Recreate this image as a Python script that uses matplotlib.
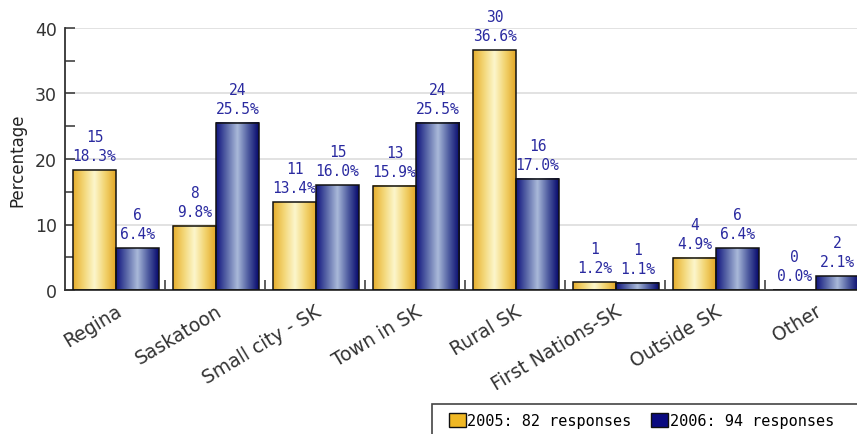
import numpy as np
import matplotlib.pyplot as plt
from matplotlib.colors import LinearSegmentedColormap
from matplotlib.patches import Rectangle

# ------------------------------------------------------------
# Data
# ------------------------------------------------------------
categories = ["Regina", "Saskatoon", "Small city - SK", "Town in SK",
              "Rural SK", "First Nations-SK", "Outside SK", "Other"]
pct_2005 = [18.3, 9.8, 13.4, 15.9, 36.6, 1.2, 4.9, 0.0]
cnt_2005 = [15, 8, 11, 13, 30, 1, 4, 0]
pct_2006 = [6.4, 25.5, 16.0, 25.5, 17.0, 1.1, 6.4, 2.1]
cnt_2006 = [6, 24, 15, 24, 16, 1, 6, 2]
series_names = ["2005: 82 responses", "2006: 94 responses"]

# cylinder-like shading for each series
gold_cmap = LinearSegmentedColormap.from_list(
    "gold", ["#E6AE2E", "#F3D676", "#FCF6CC", "#F2D36E", "#E2A625"])
blue_cmap = LinearSegmentedColormap.from_list(
    "blue", ["#10147E", "#5A68A8", "#A9B9D9", "#4E5CA0", "#06086C"])

W, H = 857, 435
fig = plt.figure(figsize=(W / 100, H / 100), dpi=100)
ax = fig.add_axes([65 / W, 144 / H, 800 / W, 262 / H])

grad = np.linspace(0, 1, 256).reshape(1, -1)
bar_w = 0.43
label_color = "#2A2AA0"


def shaded_bar(x0, h, cmap):
    if h > 0:
        ax.imshow(grad, cmap=cmap, aspect="auto", extent=[x0, x0 + bar_w, 0, h],
                  zorder=2, interpolation="bilinear")
    ax.add_patch(Rectangle((x0, 0), bar_w, h, fill=False, edgecolor="#111111",
                           linewidth=1.1, zorder=3))


def value_label(xc, h, cnt, pct):
    ax.annotate(f"{cnt}\n{pct:.1f}%", (xc, h), xytext=(0, 5),
                textcoords="offset points", ha="center", va="bottom",
                family="DejaVu Sans Mono", fontsize=10.5, color=label_color,
                linespacing=1.35, zorder=4)


for i in range(len(categories)):
    x_a = i - 0.42
    x_b = i + 0.01
    shaded_bar(x_a, pct_2005[i], gold_cmap)
    shaded_bar(x_b, pct_2006[i], blue_cmap)
    value_label(x_a + bar_w / 2, pct_2005[i], cnt_2005[i], pct_2005[i])
    value_label(x_b + bar_w / 2, pct_2006[i], cnt_2006[i], pct_2006[i])

ax.set_xlim(-0.5, len(categories) - 0.5)
ax.set_ylim(0, 40)

# axes styling
for s in ["top", "right"]:
    ax.spines[s].set_visible(False)
for s in ["left", "bottom"]:
    ax.spines[s].set_color("#333333")
    ax.spines[s].set_linewidth(1.3)

ax.set_yticks([0, 10, 20, 30, 40])
ax.set_yticks([5, 15, 25, 35], minor=True)
ax.tick_params(axis="y", which="both", direction="in", length=7, width=1.1,
               color="#333333", labelsize=12.5, labelcolor="#333333", pad=6)
ax.yaxis.grid(True, color="#DDDDDD", linewidth=1.2, zorder=0)
ax.set_axisbelow(True)

ax.set_xticks(range(len(categories)))
ax.set_xticklabels(categories, rotation=31, ha="right", rotation_mode="anchor",
                   fontsize=13.5, color="#333333")
ax.set_xticks(np.arange(0.5, len(categories) - 0.5, 1.0), minor=True)
ax.tick_params(axis="x", which="major", length=0, pad=8)
ax.tick_params(axis="x", which="minor", direction="in", length=7, width=1.1,
               color="#333333")

ax.set_ylabel("Percentage", fontsize=12, color="#222222", labelpad=6)

# legend: frame drawn separately so it can run off the right/bottom edge
fig.patches.append(Rectangle((432 / W, 1 - 460 / H), 460 / W, 55 / H,
                             transform=fig.transFigure, facecolor="white",
                             edgecolor="#444444", linewidth=1.2, zorder=5))
handles = [Rectangle((0, 0), 1, 1, facecolor="#F0B824", edgecolor="#111111"),
           Rectangle((0, 0), 1, 1, facecolor="#0A0A80", edgecolor="#111111")]
leg = fig.legend(handles, series_names, loc="upper left",
                 bbox_to_anchor=(449 / W, 1 - 414 / H), ncol=2,
                 prop={"family": "DejaVu Sans Mono", "size": 11},
                 frameon=False, handlelength=1.1, handleheight=1.0,
                 handletextpad=0.1, columnspacing=1.3, borderpad=0,
                 borderaxespad=0)
leg.set_zorder(6)

fig.savefig("out.png", dpi=100)
